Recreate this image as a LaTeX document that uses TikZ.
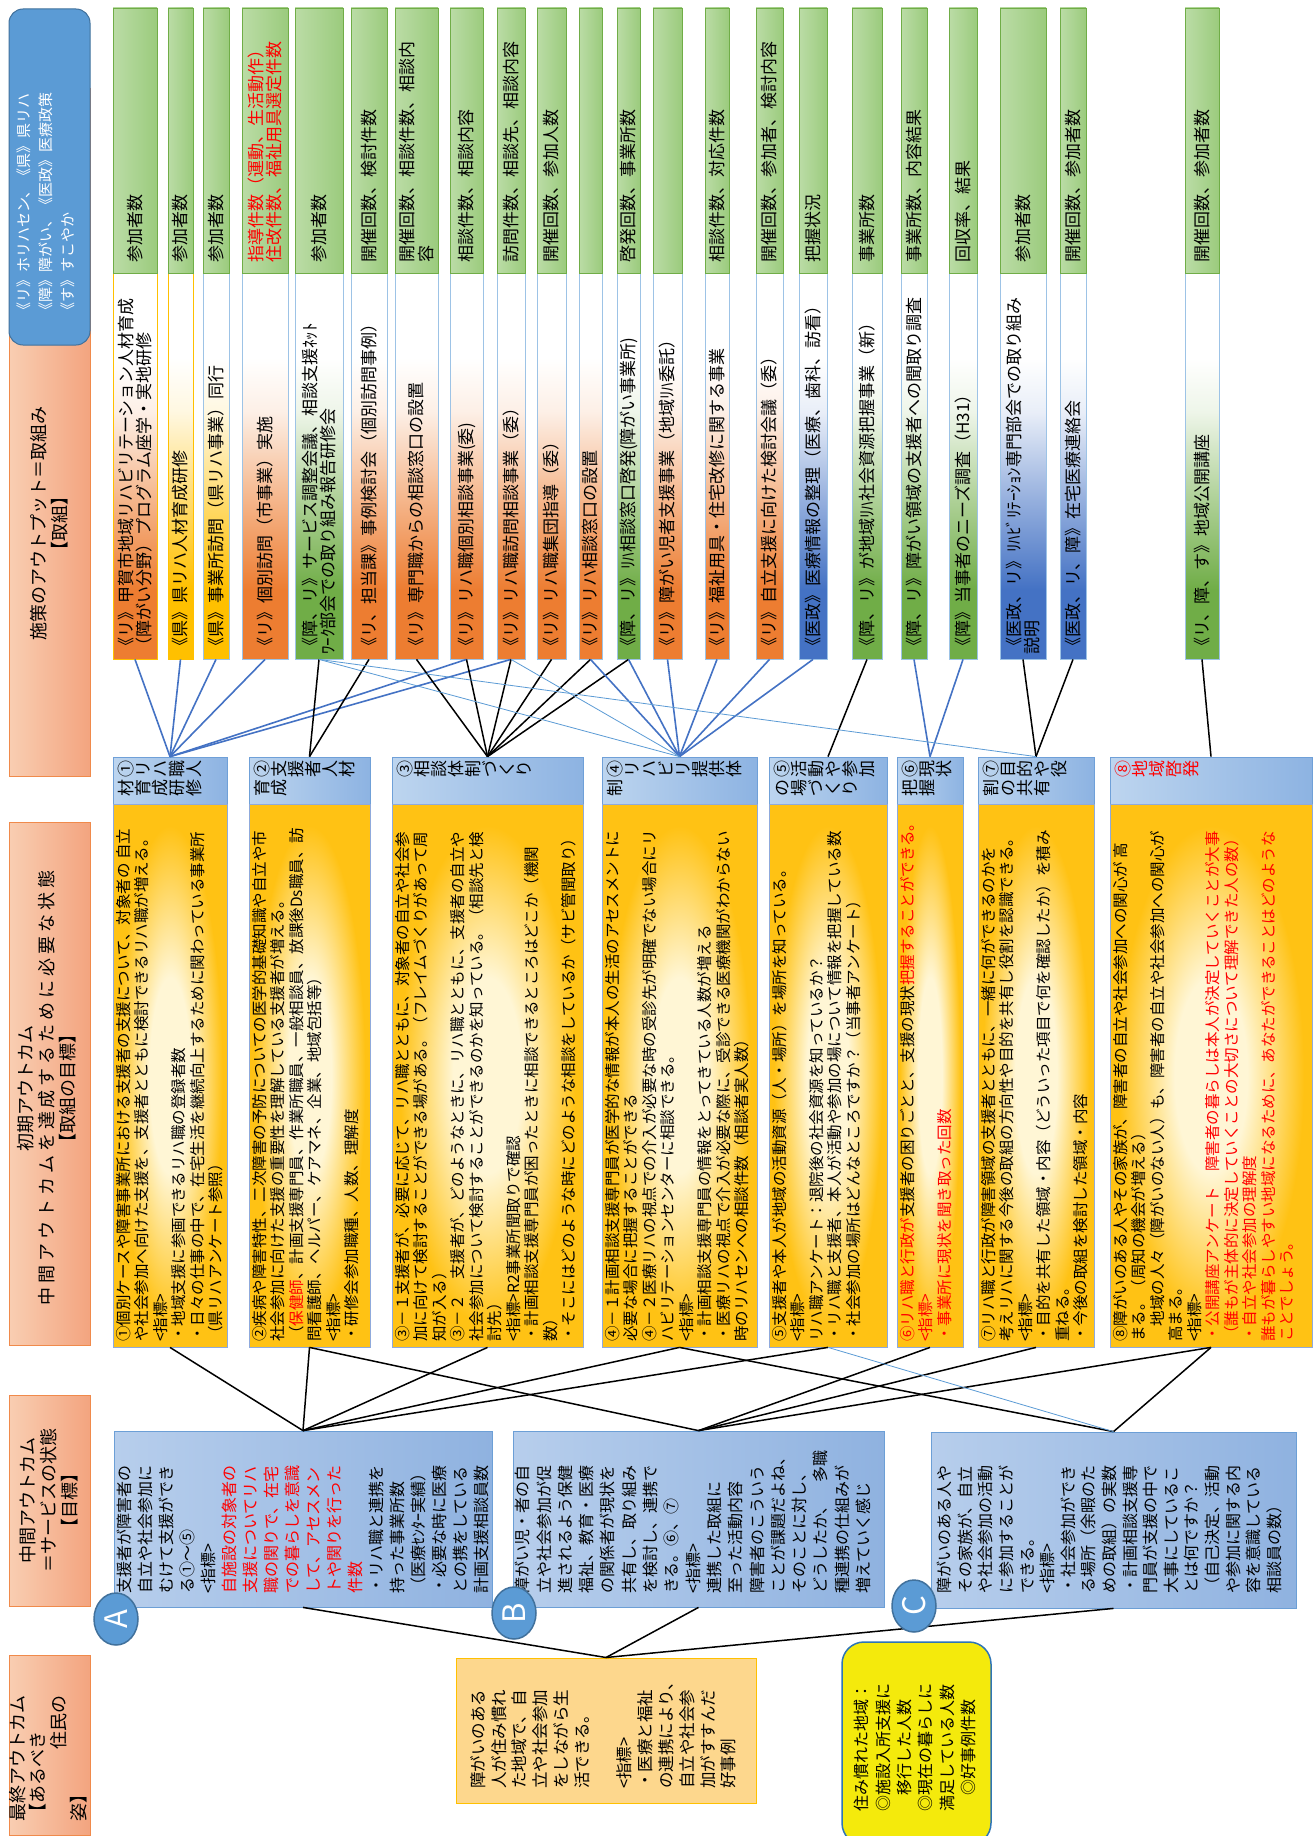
\documentclass[tikz,border=0pt]{standalone}
\usepackage{graphicx}
\usepackage{fontspec}
\setmainfont{Noto Sans CJK JP}
\usetikzlibrary{fit,shapes.geometric}

\definecolor{orC}{HTML}{ED7D31}
\definecolor{yeC}{HTML}{FFC000}
\definecolor{grC}{HTML}{70AD47}
\definecolor{buC}{HTML}{4472C4}
\definecolor{lowB}{HTML}{9DC3E6}
\definecolor{indL}{HTML}{BBDCA6}
\definecolor{indR}{HTML}{9BCB7D}
\definecolor{hdL}{HTML}{BDD5EF}
\definecolor{hdR}{HTML}{8DB3E2}
\definecolor{hdB}{HTML}{6FA0D8}
\definecolor{gold}{HTML}{FFC214}
\definecolor{cream}{HTML}{FFF6D5}
\definecolor{bdB}{HTML}{8FAADC}
\definecolor{lbL}{HTML}{F9CEB2}
\definecolor{lbR}{HTML}{F3A47F}
\definecolor{lbB}{HTML}{F08A4B}
\definecolor{keyF}{HTML}{5B9BD5}
\definecolor{keyB}{HTML}{41719C}
\definecolor{abcL}{HTML}{B7CEEC}
\definecolor{abcR}{HTML}{8FB2E0}
\definecolor{abcB}{HTML}{6C9FD6}
\definecolor{finF}{HTML}{FDD78D}
\definecolor{finB}{HTML}{FFC000}
\definecolor{yelF}{HTML}{F4EA0C}
\definecolor{yelB}{HTML}{2E75B6}
\definecolor{lnB}{HTML}{4472C4}
\definecolor{lnL}{HTML}{5B9BD5}

% vertical fades: solid colour at the bottom, white towards the top
\newcommand\mkfade[2]{%
  \colorlet{#1-a}{#2!55!white}\colorlet{#1-b}{#2!12!white}%
  \pgfdeclareverticalshading{#1}{100bp}{color(0bp)=(#2); color(34bp)=(#2);
    color(46bp)=(#1-a); color(57bp)=(#1-b); color(64bp)=(white); color(100bp)=(white)}}
\mkfade{fadeO}{orC}
\mkfade{fadeY}{yeC}
\mkfade{fadeG}{grC}
\mkfade{fadeB}{buC}
\pgfdeclareradialshading{goldglow}{\pgfpoint{0bp}{0bp}}{color(0bp)=(cream);
  color(9bp)=(cream); color(23bp)=(gold); color(50bp)=(gold)}

% each glyph turned a quarter turn, laid out in a row
\makeatletter
\def\vc@end{\vc@end}
\def\vc@loop#1{\ifx#1\vc@end\else
  \rotatebox{90}{\raisebox{0pt}[0.88em][0.12em]{#1}}\expandafter\vc@loop\fi}
\newcommand\vchars[1]{\vc@loop#1\vc@end}
\makeatother

\tikzset{
  lowbox/.style={draw=lowB, line width=0.8pt, shade},
  indbox/.style={draw=grC, line width=0.8pt, left color=indL, right color=indR},
  tbtext/.style={rotate=90, inner sep=0pt, align=left, anchor=west,
    font=\fontsize{17pt}{18.5pt}\selectfont},
  hdbox/.style={draw=hdB, line width=0.8pt, left color=hdL, right color=hdR},
  bdbox/.style={draw=bdB, line width=0.8pt, shade, shading=goldglow},
  hdtext/.style={inner sep=0pt, align=left, anchor=north west,
    font=\fontsize{17pt}{19pt}\selectfont},
  bdtext/.style={rotate=90, inner sep=0pt, align=left, anchor=north west,
    font=\fontsize{15.5pt}{18.5pt}\selectfont},
  lbox/.style={draw=lbB, line width=1pt, left color=lbL, right color=lbR, inner sep=0pt},
  coltext/.style={rotate=90, inner sep=0pt, font=\fontsize{18pt}{21pt}\selectfont},
  abc/.style={draw=abcB, line width=0.8pt, left color=abcL, right color=abcR, inner sep=0pt},
  abctext/.style={rotate=90, inner sep=0pt, align=left, anchor=north west},
  circ/.style={ellipse, draw=keyB, line width=1.5pt, fill=keyF, text=white, inner sep=0pt,
    minimum width=52pt, minimum height=44pt, rotate=90,
    font=\fontsize{31pt}{31pt}\selectfont},
  bl/.style={draw=lnB, line width=1.6pt},
  tb/.style={draw=lnL, line width=0.8pt},
  bk/.style={draw=black, line width=1.5pt},
}

% activity box with its indicator box on top
\newcommand\topbox[6]{%
  \node[lowbox, #4, inner sep=0pt, fit={(#2,273)(#3,659)}] (t#1) {};
  \node[indbox, inner sep=0pt, fit={(#2,8)(#3,273)}] (g#1) {};
  \node[tbtext] at ({(#2+#3)/2},655) {#5};
  \node[tbtext] at ({(#2+#3)/2},263) {#6};
}
% outcome heading and body
\newcommand\midbox[7]{%
  \node[hdbox, inner sep=0pt, fit={(#2,757)(#3,804)}] (h#1) {};
  \node[bdbox, inner sep=0pt, fit={(#2,804)(#3,1347)}] (b#1) {};
  \node[hdtext, text=#7] at ({#2+4},760) {\vchars{#4}\\\vchars{#5}};
  \node[bdtext] at ({#2+3},1342) {#6};
}

\begin{document}
\begin{tikzpicture}[x=1pt,y=-1pt]
\useasboundingbox (0,0) rectangle (1314,1836);
\fill[white] (0,0) rectangle (1314,1836);

% ---------- left label column ----------
\node[lbox, fit={(9,88)(90,776)}] (L1) {};
\node[draw=keyB, line width=1pt, fill=keyF, rounded corners=14pt, inner sep=0pt,
  fit={(9,9)(90,345)}] (L0) {};
\node[lbox, fit={(9,822)(90,1345)}] (L2) {};
\node[lbox, fit={(9,1395)(90,1606)}] (L3) {};
\node[lbox, fit={(9,1655)(90,1835)}] (L4) {};
\node[rotate=90, inner sep=0pt, align=left, anchor=north west, text=white,
  font=\fontsize{15pt}{22pt}\selectfont] at (17,318)
  {《リ》ホリハセン、《県》県リハ\\《障》障がい、《医政》医療政策\\《す》すこやか};
\node[coltext, align=center] at (49,523) {施策のアウトプット＝取組み\\【取組】};
\node[coltext, align=center] at (47,1088)
  {初期アウトカム\\{\addfontfeatures{LetterSpace=22}中間アウトカムを達成するために必要な状態}\\【取組の目標】};
\node[coltext, align=center] at (49,1500) {中間アウトカム\\＝サービスの状態\\【目標】};
\node[coltext, align=left, anchor=north west, font=\fontsize{18pt}{20.5pt}\selectfont]
  at (9,1822) {最終アウトカム\\【あるべき\\\hspace{4em}住民の\\姿】};

% ---------- activities and indicators ----------
\topbox{1}{113}{157}{shading=fadeO, draw=yeC}
  {《リ》甲賀市地域リハビリテーション人材育成\\（障がい分野）プログラム座学・実地研修}{参加者数}
\topbox{2}{168}{193}{shading=fadeY, draw=yeC}{《県》県リハ人材育成研修}{参加者数}
\topbox{3}{203}{229}{shading=fadeY}{《県》事業所訪問（県リハ事業）同行}{参加者数}
\topbox{4}{242}{288}{shading=fadeO}{《リ》個別訪問（市事業）実施}
  {{\color{red}指導件数（運動、生活動作）}\\{\color{red}住改件数、福祉用具選定件数}}
\topbox{5}{295}{343}{shading=fadeG}
  {《障、リ》サービス調整会議、相談支援ﾈｯﾄ\\ﾜｰｸ部会での取り組み報告研修会}{参加者数}
\topbox{6}{351}{387}{shading=fadeO}{《リ、担当課》事例検討会（個別訪問事例）}{開催回数、検討件数}
\topbox{7}{395}{438}{shading=fadeO}{《リ》専門職からの相談窓口の設置}{開催回数、相談件数、相談内\\容}
\topbox{8}{450}{483}{shading=fadeO}{《リ》リハ職個別相談事業(委)}{相談件数、相談内容}
\topbox{9}{497}{525}{shading=fadeO}{《リ》リハ職訪問相談事業（委）}{訪問件数、相談先、相談内容}
\topbox{10}{537}{566}{shading=fadeO}{《リ》リハ職集団指導（委）}{開催回数、参加人数}
\topbox{11}{579}{602}{shading=fadeO}{《リ》リハ相談窓口の設置}{}
\topbox{12}{617}{640}{shading=fadeG}{《障、リ》ﾘﾊ相談窓口啓発(障がい事業所)}{啓発回数、事業所数}
\topbox{13}{653}{682}{shading=fadeO}{《リ》障がい児者支援事業（地域ﾘﾊ委託）}{}
\topbox{14}{705}{729}{shading=fadeO}{《リ》福祉用具・住宅改修に関する事業}{相談件数、対応件数}
\topbox{15}{756}{783}{shading=fadeO}{《リ》自立支援に向けた検討会議（委）}{開催回数、参加者、検討内容}
\topbox{16}{799}{827}{shading=fadeB}{《医政》医療情報の整理（医療、歯科、訪看）}{把握状況}
\topbox{17}{852}{882}{shading=fadeG}{《障、リ》が地域ﾘﾊ社会資源把握事業（新）}{事業所数}
\topbox{18}{901}{927}{shading=fadeG}{《障、リ》障がい領域の支援者への聞取り調査}{事業所数、内容結果}
\topbox{19}{949}{977}{shading=fadeG}{《障》当事者のニーズ調査（H31）}{回収率、結果}
\topbox{20}{1000}{1046}{shading=fadeB}{《医政、リ》ﾘﾊﾋﾞﾘﾃｰｼｮﾝ専門部会での取り組み\\説明}{参加者数}
\topbox{21}{1060}{1086}{shading=fadeB}{《医政、リ、障》在宅医療連絡会}{開催回数、参加者数}
\topbox{22}{1185}{1219}{shading=fadeG}{《リ、障、す》地域公開講座}{開催回数、参加者数}

% ---------- initial outcomes ----------
\midbox{1}{113}{227}{①リハ職人}{材育成研修}
  {①個別ケースや障害事業所における支援者の支援について、対象者の 自立\\
   や社会参加へ向けた支援を、支援者とともに検討できるリハ職が増える。\\
   <指標>\\
   ・地域支援に参画できるリハ職の登録者数\\
   ・日々の仕事の中で、在宅生活を継続向上するために関わっている事業所\\
   （県リハアンケート参照）}{black}
\midbox{2}{249}{370}{②支援者人材}{育成}
  {②疾病や障害特性、二次障害の予防についての医学的基礎知識や自立や市\\
   社会参加に向けた支援の重要性を理解している支援者が増える。\\
   （{\color{red}保健師}、計画支援専門員、作業所職員、一般相談員、放課後Ds職員、訪\\
   問看護師、ヘルパー、ケアマネ、企業、地域包括等）\\
   <指標>\\
   ・研修会参加職種、人数、理解度}{black}
\midbox{3}{392}{583}{③相談体制づくり}{}
  {③－１支援者が、必要に応じて、リハ職とともに、対象者の自立や社会参\\
   加に向けて検討することができる場がある。（フレイムづくりがあって周\\
   知が入る）\\
   ③－２　支援者が、どのようなときに、リハ職とともに、支援者の自立や\\
   社会参加について検討することができるのかを知っている。（相談先と検\\
   討先）\\
   <指標>R2事業所聞取りで確認\\
   ・計画相談支援専門員が困ったときに相談できるところはどこか（機関\\
   数）\\
   ・そこにはどのような時にどのような相談をしているか（サビ管聞取り）}{black}
\midbox{4}{602}{757}{④リハビリ提供体}{制}
  {④－１計画相談支援専門員が医学的な情報が本人の生活のアセスメントに\\
   必要な場合に把握することができる\\
   ④－２医療リハの視点での介入が必要な時の受診先が明確でない場合にリ\\
   ハビリテーションセンターに相談できる。\\
   <指標>\\
   ・計画相談支援専門員の情報をとってきている人数が増える\\
   ・医療リハの視点で介入が必要な際に、受診できる医療機関がわからない\\
   時のリハセンへの相談件数（相談者実人数）}{black}
\midbox{5}{769}{887}{⑤活動や参加}{の場づくり}
  {⑤支援者や本人が地域の活動資源（人・場所）を場所を知っている。\\
   <指標>\\
   リハ職アンケート：退院後の社会資源を知っているか？\\
   ・リハ職と支援者、本人が活動や参加の場について情報を把握している数\\
   ・社会参加の場所はどんなところですか？（当事者アンケート）}{black}
\midbox{6}{897}{963}{⑥現状}{把握}
  {{\color{red}⑥リハ職と行政が}支援者の困りごとと、支援の現状{\color{red}把握することができる。}\\
   {\color{red}<指標>}\\
   {\color{red}・事業所に現状を聞き取った回数}}{black}
\midbox{7}{978}{1094}{⑦目的や役}{割の共有}
  {⑦リハ職と行政が障害領域の支援者とともに、一緒に何ができるのかを\\
   考えリハに関する今後の取組の方向性や目的を共有し役割を認識できる。\\
   <指標>\\
   ・目的を共有した領域・内容（どういった項目で何を確認したか）を積み\\
   重ねる。\\
   ・今後の取組を検討した領域・内容}{black}
\midbox{8}{1110}{1312}{⑧地域啓発}{}
  {⑧障がいのある人やその家族が、障害者の自立や社会参加への関心が 高\\
   まる。（周知の機会が増える）\\
   　地域の人々（障がいのない人）も、障害者の自立や社会参加への関心が\\
   高まる。\\
   <指標>\\
   {\color{red}・公開講座アンケート　障害者の暮らしは本人が決定していくことが大事}\\
   {\color{red}（誰もが主体的に決定していくことの大切さについて理解できた人の数）}\\
   {\color{red}・自立や社会参加の理解度}\\
   {\color{red}誰もが暮らしやすい地域になるために、あなたができることはどのような}\\
   {\color{red}ことでしょう。}}{red}

% ---------- intermediate outcomes ----------
\node[abc, fit={(114,1431)(492,1607)}] (nA) {};
\node[abc, fit={(513,1431)(884,1607)}] (nB) {};
\node[abc, fit={(931,1432)(1296,1608)}] (nC) {};
\node[abctext, font=\fontsize{16pt}{21pt}\selectfont] at (117,1594)
  {支援者が障害者の\\自立や社会参加に\\むけて支援ができ\\る①～⑤\\<指標>\\
   {\color{red}自施設の対象者の}\\{\color{red}支援についてリハ}\\{\color{red}職の関りで、在宅}\\
   {\color{red}での暮らしを意識}\\{\color{red}して、アセスメン}\\{\color{red}トや関りを行った}\\
   {\color{red}件数}\\・リハ職と連携を\\持った事業所数\\（医療ｾﾝﾀｰ実績）\\
   ・必要な時に医療\\との携をしている\\計画支援相談員数};
\node[abctext, font=\fontsize{16pt}{21.3pt}\selectfont] at (515,1594)
  {障がい児・者の自\\立や社会参加が促\\進されるよう保健\\福祉、教育・医療\\
   の関係者が現状を\\共有し、取り組み\\を検討し、連携で\\きる。⑥、⑦\\<指標>\\
   連携した取組に\\至った活動内容\\障害者のこういう\\ことが課題だよね、\\
   そのことに対し、\\どうしたか、　多職\\種連携の仕組みが\\増えていく感じ};
\node[abctext, font=\fontsize{16pt}{20.6pt}\selectfont] at (937,1594)
  {障がいのある人や\\その家族が、自立\\や社会参加の活動\\に参加することが\\
   できる。\\<指標>\\・社会参加ができ\\る場所（余暇のた\\めの取組）の実数\\
   ・計画相談支援専\\門員が支援の中で\\大事にしているこ\\とは何ですか？\\
   （自己決定、活動\\や参加に関する内\\容を意識している\\相談員の数）};

% ---------- final outcome ----------
\node[draw=finB, line width=1pt, fill=finF, inner sep=0pt, fit={(456,1658)(756,1803)}] (fin) {};
\node[abctext, font=\fontsize{16.5pt}{20.9pt}\selectfont] at (470,1789)
  {障がいのある\\人が住み慣れ\\た地域で、自\\立や社会参加\\をしながら生\\活できる。\\
   \mbox{}\\<指標>\\・医療と福祉\\の連携により、\\自立や社会参\\加がすすんだ\\好事例};
\node[draw=yelB, line width=1.5pt, fill=yelF, rounded corners=22pt, inner sep=0pt,
  fit={(842,1642)(991,1845)}] (yel) {};
\node[abctext, font=\fontsize{16pt}{21.4pt}\selectfont] at (854,1812)
  {住み慣れた地域：\\◎施設入所支援に\\　移行した人数\\◎現在の暮らしに\\満足している人数\\　◎好事例件数};

% ---------- connectors ----------
\foreach \i in {1,2,3,4,8,9} \draw[bl] (t\i.south) -- (h1.north);
\foreach \i in {5,6} \draw[bk] (t\i.south) -- (h2.north);
\foreach \i in {7,...,12} \draw[bk] (t\i.south) -- (h3.north);
\foreach \i in {11,...,16} \draw[bl] (t\i.south) -- (h4.north);
\draw[tb] (t5.south) -- (h4.north);
\draw[tb] (t9.south) -- (h4.north);
\draw[bk] (t17.south) -- (h5.north);
\foreach \i in {18,19} \draw[bl] (t\i.south) -- (h6.north);
\foreach \i in {20,21} \draw[bk] (t\i.south) -- (h7.north);
\draw[tb] (t5.south) -- (h7.north);
\draw[bk] (t22.south) -- (h8.north);

\foreach \i in {1,...,5} \draw[bk] (b\i.south) -- (nA.north);
\foreach \i in {2,6,7,8} \draw[bk] (b\i.south) -- (nB.north);
\draw[bk] (b8.south) -- (nC.north);
\draw[bk] (b4.south) -- (nC.north);
\draw[tb] (b5.south) -- (nC.north);

\foreach \n in {nA,nB,nC} \draw[bk] (\n.south) -- (fin.north);

% ---------- markers ----------
\node[circ] (cA) at (116,1619) {A};
\node[circ] (cB) at (514,1613) {B};
\node[circ] (cC) at (914,1606) {C};
\end{tikzpicture}
\end{document}
